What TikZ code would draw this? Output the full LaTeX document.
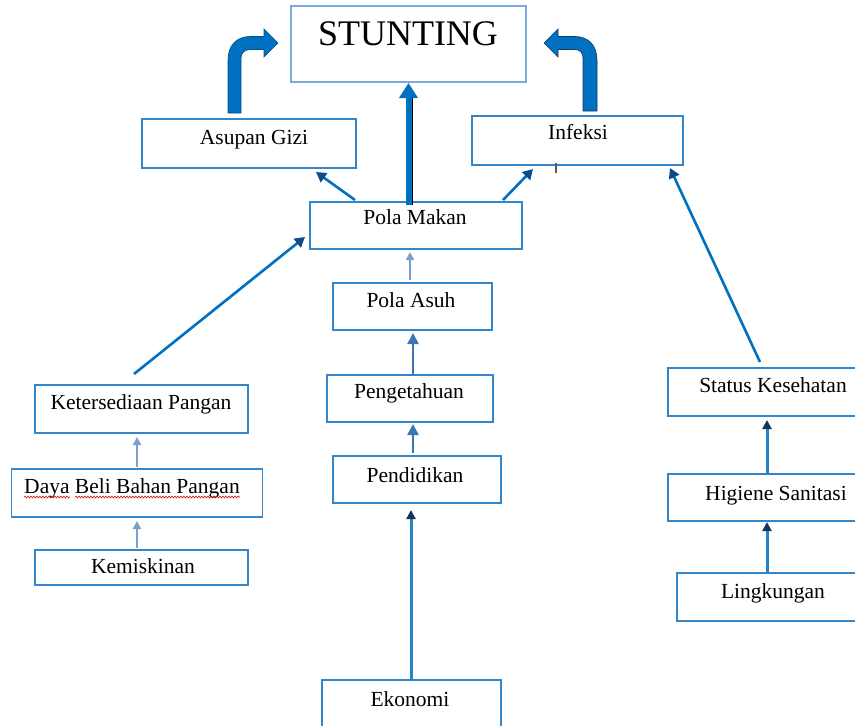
\documentclass[tikz,border=0pt]{standalone}
\usepackage{fontspec}
\setmainfont{Liberation Serif}
\usetikzlibrary{arrows.meta,calc,decorations.pathmorphing}

\definecolor{boxblue}{RGB}{52,134,204}
\definecolor{topblue}{RGB}{125,172,220}
\definecolor{arrowblue}{RGB}{0,112,192}
\definecolor{navy}{RGB}{22,52,98}
\definecolor{paleblue}{RGB}{118,162,206}
\definecolor{midblue}{RGB}{58,118,178}
\definecolor{shade}{RGB}{232,190,160}

\begin{document}
\begin{tikzpicture}[x=1pt,y=-1pt,
  box/.style={draw=boxblue,line width=1.4pt,fill=white,rectangle,inner sep=0pt,outer sep=0pt},
  lbl/.style={anchor=base,inner sep=0pt,font=\fontsize{21.5}{24}\selectfont},
  diagarrow/.style={draw=arrowblue,line width=2.6pt,-{Triangle[length=10pt,width=11pt,color=navy!60!arrowblue]}},
  palearrow/.style={draw=paleblue,line width=2pt,-{Triangle[length=8pt,width=8pt]}},
  midarrow/.style={draw=midblue,line width=2.4pt,-{Triangle[length=11pt,width=11pt]}},
  strongarrow/.style={draw=arrowblue!85!white,line width=3pt,-{Triangle[length=9pt,width=9pt,color=navy]}},
  bentarrow/.style={fill=arrowblue,draw=arrowblue!70!black,line width=0.6pt,line join=miter}
]
\useasboundingbox (0,0) rectangle (855,726);
\clip (0,0) rectangle (855,726);

% boxes
\node[box,draw=topblue,line width=1.2pt,minimum width=235pt,minimum height=76pt] (stunting) at (408.5,44) {};
\node[box,minimum width=214pt,minimum height=49pt] (asupan) at (249,143.5) {};
\node[box,minimum width=211pt,minimum height=49pt] (infeksi) at (577.5,140.5) {};
\node[box,minimum width=212pt,minimum height=47pt] (polamakan) at (416,225.5) {};
\node[box,minimum width=159pt,minimum height=47pt] (polaasuh) at (412.5,306.5) {};
\node[box,minimum width=166pt,minimum height=47pt] (pengetahuan) at (410,398.5) {};
\node[box,minimum width=168pt,minimum height=47pt] (pendidikan) at (417,479.5) {};
\node[box,minimum width=179pt,minimum height=60pt] (ekonomi) at (411.5,710) {};
\node[box,minimum width=213pt,minimum height=48pt] (keters) at (141.5,409) {};
\node[box,minimum width=251pt,minimum height=48pt] (dayabeli) at (137,493) {};
\node[box,minimum width=213pt,minimum height=35pt] (kemiskinan) at (141.5,567.5) {};
\node[box,minimum width=192pt,minimum height=48pt] (status) at (764,392) {};
\node[box,minimum width=192pt,minimum height=47pt] (higiene) at (764,497.5) {};
\node[box,minimum width=183pt,minimum height=48pt] (lingkungan) at (768.5,597) {};

% labels
\node[lbl,font=\fontsize{36}{40}\selectfont] (tstunting) at (408,45) {STUNTING};
\node[lbl] (tasupan) at (254,144) {Asupan Gizi};
\node[lbl] (tinfeksi) at (578,139) {Infeksi};
\node[lbl] (tpolamakan) at (415,224) {Pola Makan};
\node[lbl] (tpolaasuh) at (411,307) {Pola Asuh};
\node[lbl] (tpengetahuan) at (409,398) {Pengetahuan};
\node[lbl] (tpendidikan) at (415,482) {Pendidikan};
\node[lbl] (tekonomi) at (410,706) {Ekonomi};
\node[lbl] (tketers) at (141,409) {Ketersediaan Pangan};
\node[lbl] (tdaya) at (132,493) {Daya Beli Bahan Pangan};
\node[lbl] (tkemiskinan) at (143,573) {Kemiskinan};
\node[lbl] (tstatus) at (773,392) {Status Kesehatan};
\node[lbl] (thigiene) at (776,500) {Higiene Sanitasi};
\node[lbl] (tlingkungan) at (773,598) {Lingkungan};

% spell-check squiggles under the purchasing-power label
\draw[red!85!black,line width=0.6pt,decorate,decoration={snake,amplitude=0.9pt,segment length=3pt}]
  ($(tdaya.base west)+(0,4)$) -- ($(tdaya.base west)+(46,4)$);
\draw[red!85!black,line width=0.6pt,decorate,decoration={snake,amplitude=0.9pt,segment length=3pt}]
  ($(tdaya.base west)+(51,4)$) -- ($(tdaya.base east)+(0,4)$);

% small cursor mark below Infeksi
\draw[black!65,line width=1.3pt] ($(infeksi.south)+(-21.5,-2)$) -- ($(infeksi.south)+(-21.5,8)$);

% bent arrows into STUNTING
\begin{scope}[shift={($(asupan.north)+(-14.5,-6)$)}]
  \path[bentarrow] (-6.5,0) -- (-6.5,-53) .. controls (-6.5,-68) and (2.5,-76.5) .. (15.5,-76.5)
    -- (29.5,-76.5) -- (29.5,-84) -- (43.5,-70) -- (29.5,-56) -- (29.5,-63.5) -- (15.5,-63.5)
    .. controls (10.5,-63.5) and (6.5,-60) .. (6.5,-55) -- (6.5,0) -- cycle;
\end{scope}
\begin{scope}[shift={($(infeksi.north)+(12.5,-5)$)}]
  \path[bentarrow,draw=navy] (7,0) -- (7,-51) .. controls (7,-66) and (-2,-74.5) .. (-15,-74.5)
    -- (-32,-74.5) -- (-32,-82) -- (-46,-68) -- (-32,-54) -- (-32,-61.5) -- (-15,-61.5)
    .. controls (-10,-61.5) and (-7,-58) .. (-7,-53) -- (-7,0) -- cycle;
\end{scope}

% central arrow Pola Makan -> STUNTING
\draw[shade,line width=3pt] ($(polamakan.north -| stunting.south)+(3,3)$) -- ($(stunting.south)+(3,16)$);
\draw[arrowblue,line width=6pt,-{Triangle[length=15pt,width=18pt]}]
  ($(polamakan.north -| stunting.south)+(0,3)$) -- ($(stunting.south)+(0,1)$);

% diagonal arrows
\draw[diagarrow] ($(polamakan.north west)+(45,-2)$) -- ($(asupan.south east)+(-40,4)$);
\draw[diagarrow] ($(polamakan.north east)+(-19,-2)$) -- ($(infeksi.south west)+(61,4)$);
\draw[diagarrow] ($(keters.north)+(-7.5,-11)$) -- ($(polamakan.west)+(-5,11.5)$);
\draw[diagarrow] ($(status.north)+(-4,-6)$) -- ($(infeksi.south east)+(-13,3)$);

% middle column
\draw[palearrow] ($(polaasuh.north)+(-2.5,-3)$) -- ($(polaasuh.north |- polamakan.south)+(-2.5,3)$);
\draw[midarrow] ($(pengetahuan.north)+(3,0)$) -- ($(pengetahuan.north |- polaasuh.south)+(3,3)$);
\draw[midarrow] ($(pendidikan.north)+(-4,-3)$) -- ($(pendidikan.north |- pengetahuan.south)+(-4,2)$);
\draw[strongarrow] ($(ekonomi.north)+(-0.5,0)$) -- ($(ekonomi.north |- pendidikan.south)+(-0.5,7)$);

% left column
\draw[palearrow] ($(dayabeli.north)+(0,-2)$) -- ($(dayabeli.north |- keters.south)+(0,4)$);
\draw[palearrow] ($(kemiskinan.north)+(-4.5,-2)$) -- ($(kemiskinan.north |- dayabeli.south)+(-4.5,4)$);

% right column
\draw[strongarrow] ($(higiene.north)+(3,0)$) -- ($(higiene.north |- status.south)+(3,4)$);
\draw[strongarrow] ($(lingkungan.north)+(-1.5,0)$) -- ($(lingkungan.north |- higiene.south)+(-1.5,1)$);
\end{tikzpicture}
\end{document}
